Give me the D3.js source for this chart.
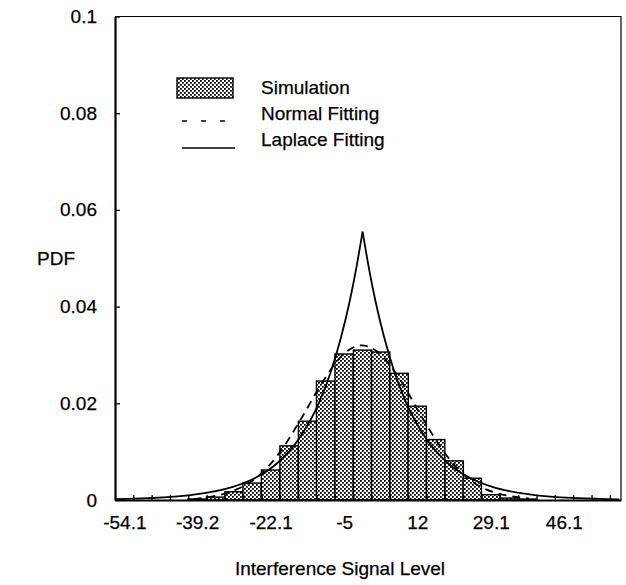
<!DOCTYPE html>
<html>
<head>
<meta charset="utf-8">
<script src="https://cdn.jsdelivr.net/npm/d3@7"></script>
<style>
  body { margin: 0; background: #fff; }
  text { font-family: "Liberation Sans", Arial, Helvetica, sans-serif; fill: #000; stroke: #000; stroke-width: 0.25; }
</style>
</head>
<body>
<svg id="chart" width="626" height="585"></svg>
<script>
// histogram bins (centre of each bin, signal level) and simulated pdf
const binWidth = 4.2625;
const binCenters = [-39.2, -34.9, -30.6, -26.4, -22.1, -17.8, -13.5, -9.3, -5, -0.7, 3.5, 7.8, 12, 16.3, 20.6, 24.8, 29.1, 33.4, 37.6];
const simPdf = [0.0002, 0.0006, 0.0017, 0.0035, 0.0062, 0.0112, 0.0163, 0.0246, 0.0302, 0.0310, 0.0306, 0.0262, 0.0194, 0.0125, 0.0081, 0.0045, 0.0011, 0.0004, 0.0002];

// normal fitting
const normalX = [-40, -30, -25, -20, -15, -10, -5, -0.85, 3, 8, 13, 18, 23, 28, 38];
const normalPdf = [0.0002, 0.0022, 0.0049, 0.0098, 0.0168, 0.0244, 0.0303, 0.032, 0.0305, 0.0249, 0.0173, 0.0102, 0.0051, 0.0022, 0.0003];

// laplace fitting
const laplaceX = [-58, -50.7, -40.7, -30.7, -25.7, -20.7, -15.7, -10.7, -8.2, -5.7, -3.7, -2.2, -0.7, 0.8, 2.3, 4.3, 6.8, 9.3, 14.3, 19.3, 24.3, 29.3, 39.3, 49.3, 59];
const laplacePdf = [0.00018, 0.00037, 0.00102, 0.00276, 0.00456, 0.0075, 0.0124, 0.0204, 0.0262, 0.0337, 0.0411, 0.0478, 0.0555, 0.0478, 0.0411, 0.0337, 0.0262, 0.0204, 0.0124, 0.0075, 0.00456, 0.00276, 0.00102, 0.00037, 0.00014];

// axis ticks
const xTickValues = [-56.1, -39.2, -22.1, -5, 12, 29.1, 46.1];
const xTickLabels = ["-54.1", "-39.2", "-22.1", "-5", "12", "29.1", "46.1"];
const yTicks = [0, 0.02, 0.04, 0.06, 0.08, 0.1];

const svg = d3.select('#chart');
const plotLeft = 115, plotRight = 621, plotTop = 16.5, plotBottom = 500;
const xMin = -58.28;

const x = d3.scaleLinear().domain([xMin, xMin + (plotRight - plotLeft) / 4.30]).range([plotLeft, plotRight]);
const y = d3.scaleLinear().domain([0, 0.1]).range([plotBottom, plotTop]);

// dotted fill like the printed stipple
const defs = svg.append('defs');
const pat = defs.append('pattern').attr('id', 'dots').attr('patternUnits', 'userSpaceOnUse')
  .attr('width', 4).attr('height', 4);
pat.append('rect').attr('width', 4).attr('height', 4).attr('fill', '#fff');
pat.append('rect').attr('x', 0).attr('y', 0).attr('width', 1.8).attr('height', 1.8).attr('fill', '#000');
pat.append('rect').attr('x', 2).attr('y', 2).attr('width', 1.8).attr('height', 1.8).attr('fill', '#000');

defs.append('clipPath').attr('id', 'plotclip').append('rect')
  .attr('x', plotLeft).attr('y', plotTop).attr('width', plotRight - plotLeft).attr('height', plotBottom - plotTop);

// frame (top and right, thinner)
svg.append('path')
  .attr('d', `M${plotLeft},${plotTop}H${plotRight}V${plotBottom}`)
  .attr('fill', 'none').attr('stroke', '#000').attr('stroke-width', 1.2);

// bars
svg.append('g').selectAll('rect').data(binCenters).enter().append('rect')
  .attr('x', d => x(d - binWidth / 2))
  .attr('width', d => x(d + binWidth / 2) - x(d - binWidth / 2))
  .attr('y', (d, i) => y(simPdf[i]))
  .attr('height', (d, i) => y(0) - y(simPdf[i]))
  .attr('fill', 'url(#dots)')
  .attr('stroke', '#000').attr('stroke-width', 1.4);

const plot = svg.append('g').attr('clip-path', 'url(#plotclip)');

// normal fitting
const normalLine = d3.line().x(d => x(d[0])).y(d => y(d[1])).curve(d3.curveMonotoneX);
plot.append('path')
  .datum(normalX.map((v, i) => [v, normalPdf[i]]))
  .attr('d', normalLine)
  .attr('fill', 'none').attr('stroke', '#000').attr('stroke-width', 1.8)
  .attr('stroke-dasharray', '8,6');

// laplace fitting: two branches so the peak stays a cusp
const lapPts = laplaceX.map((v, i) => [v, laplacePdf[i]]);
const peak = d3.maxIndex(laplacePdf);
const lapLine = d3.line().x(d => x(d[0])).y(d => y(d[1])).curve(d3.curveMonotoneX);
[lapPts.slice(0, peak + 1), lapPts.slice(peak)].forEach(branch => {
  plot.append('path').datum(branch).attr('d', lapLine)
    .attr('fill', 'none').attr('stroke', '#000').attr('stroke-width', 1.8)
    .attr('stroke-linejoin', 'miter');
});

// x axis: minor ticks at bin edges, labels at bin centres
const minorTicks = d3.range(1, 28).map(k => xMin + k * binWidth);
svg.append('g').attr('transform', `translate(0,${plotBottom})`)
  .call(d3.axisBottom(x).tickValues(minorTicks).tickSize(-5).tickSizeOuter(0).tickFormat(''))
  .call(g => g.select('.domain').attr('stroke-width', 2.2))
  .call(g => g.selectAll('.tick line').attr('stroke-width', 1.3));

svg.append('g').attr('transform', `translate(0,${plotBottom})`)
  .call(d3.axisBottom(x).tickValues(xTickValues).tickSize(0).tickPadding(16)
    .tickFormat((d, i) => xTickLabels[i]))
  .call(g => g.select('.domain').remove())
  .call(g => g.selectAll('text').attr('font-size', 19).attr('font-family', null));

// y axis
svg.append('g').attr('transform', `translate(${plotLeft},0)`)
  .call(d3.axisLeft(y).tickValues(yTicks).tickSize(-5).tickSizeOuter(0).tickPadding(18)
    .tickFormat(d => d === 0 ? '0' : String(+d.toFixed(2))))
  .call(g => g.select('.domain').attr('stroke-width', 2.2))
  .call(g => g.selectAll('.tick line').attr('stroke-width', 1.3))
  .call(g => g.selectAll('text').attr('font-size', 19).attr('font-family', null));

// axis titles
svg.append('text').attr('x', 56).attr('y', 258).attr('dy', '0.35em')
  .attr('text-anchor', 'middle').attr('font-size', 19).text('PDF');
svg.append('text').attr('x', 340).attr('y', 568).attr('dy', '0.35em')
  .attr('text-anchor', 'middle').attr('font-size', 19).text('Interference Signal Level');

// legend
const lg = svg.append('g');
lg.append('rect').attr('x', 177).attr('y', 78).attr('width', 56).attr('height', 20)
  .attr('fill', 'url(#dots)').attr('stroke', '#000').attr('stroke-width', 1.4);
lg.append('line').attr('x1', 182).attr('x2', 226).attr('y1', 121).attr('y2', 121)
  .attr('stroke', '#000').attr('stroke-width', 1.4).attr('stroke-dasharray', '5,14');
lg.append('line').attr('x1', 182).attr('x2', 235).attr('y1', 148).attr('y2', 148)
  .attr('stroke', '#000').attr('stroke-width', 1.4);
[['Simulation', 87], ['Normal Fitting', 113], ['Laplace Fitting', 139]].forEach(([t, ty]) => {
  lg.append('text').attr('x', 261).attr('y', ty).attr('dy', '0.35em').attr('font-size', 19).text(t);
});
</script>
</body>
</html>
